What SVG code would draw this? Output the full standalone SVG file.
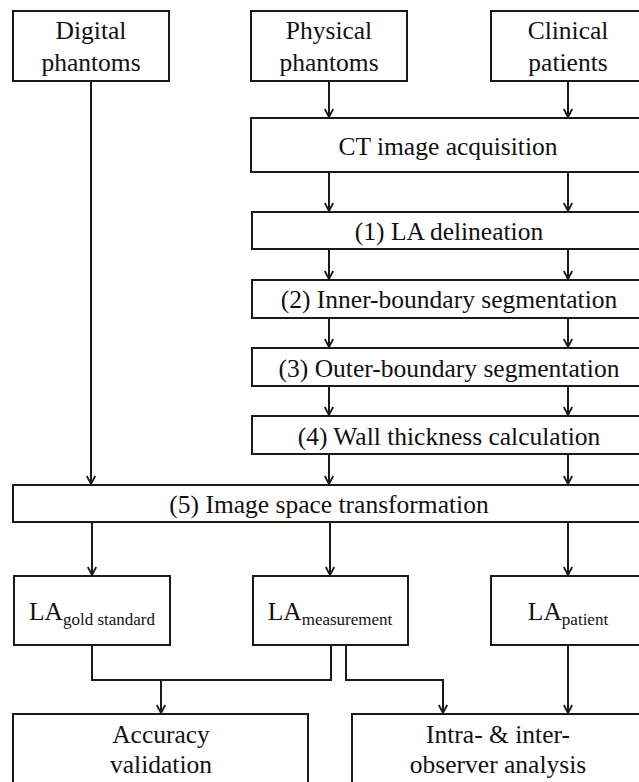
<svg xmlns="http://www.w3.org/2000/svg" width="639" height="782" viewBox="0 0 639 782" font-family="'Liberation Serif', 'DejaVu Serif', 'Times New Roman', Times, serif">
  <style>
    .box { fill: #ffffff; stroke: #1a1a1a; stroke-width: 2; }
    .lbl { font-size: 25.5px; fill: #111111; text-anchor: middle; }
    .sub { font-size: 17px; }
    .edge { fill: none; stroke: #1a1a1a; stroke-width: 2; }
    .arrow { marker-end: url(#head); }
  </style>
  <defs>
    <marker id="head" viewBox="0 0 10 10" refX="9.5" refY="5" markerWidth="10" markerHeight="10" markerUnits="userSpaceOnUse" orient="auto">
      <path d="M1.5,0.8 L9.5,5 L1.5,9.2" fill="none" stroke="#1a1a1a" stroke-width="1.8"/>
    </marker>
  </defs>
  <rect width="639" height="782" fill="#ffffff"/>

  <!-- connectors -->
  <g id="connectors">
    <path class="edge arrow" d="M329,81 V117"/>
    <path class="edge arrow" d="M568,81 V117"/>
    <path class="edge arrow" d="M329,172 V211"/>
    <path class="edge arrow" d="M568,172 V211"/>
    <path class="edge arrow" d="M329,249 V279"/>
    <path class="edge arrow" d="M568,249 V279"/>
    <path class="edge arrow" d="M329,318 V347"/>
    <path class="edge arrow" d="M568,318 V347"/>
    <path class="edge arrow" d="M329,386 V415"/>
    <path class="edge arrow" d="M568,386 V415"/>
    <path class="edge arrow" d="M91,81 V484"/>
    <path class="edge arrow" d="M329,454 V484"/>
    <path class="edge arrow" d="M568,454 V484"/>
    <path class="edge arrow" d="M92,522 V575"/>
    <path class="edge arrow" d="M330,522 V575"/>
    <path class="edge arrow" d="M568,522 V575"/>
    <path class="edge" d="M92,645 V680 H331 V645"/>
    <path class="edge arrow" d="M161,680 V713"/>
    <path class="edge arrow" d="M346,645 V680 H443 V713"/>
    <path class="edge arrow" d="M568,645 V713"/>
  </g>

  <g id="digital">
    <rect class="box" x="13" y="11" width="156" height="70"/>
    <text class="lbl" x="91" y="39">Digital</text>
    <text class="lbl" x="91" y="71">phantoms</text>
  </g>
  <g id="physical">
    <rect class="box" x="251" y="11" width="156" height="70"/>
    <text class="lbl" x="329" y="39">Physical</text>
    <text class="lbl" x="329" y="71">phantoms</text>
  </g>
  <g id="clinical">
    <rect class="box" x="491" y="11" width="155" height="70"/>
    <text class="lbl" x="568" y="39">Clinical</text>
    <text class="lbl" x="568" y="71">patients</text>
  </g>
  <g id="ct">
    <rect class="box" x="251" y="118" width="395" height="54"/>
    <text class="lbl" x="448" y="155">CT image acquisition</text>
  </g>
  <g id="step1">
    <rect class="box" x="252" y="212" width="394" height="37"/>
    <text class="lbl" x="449" y="240">(1) LA delineation</text>
  </g>
  <g id="step2">
    <rect class="box" x="252" y="280" width="394" height="38"/>
    <text class="lbl" x="449" y="308">(2) Inner-boundary segmentation</text>
  </g>
  <g id="step3">
    <rect class="box" x="252" y="348" width="394" height="38"/>
    <text class="lbl" x="449" y="377">(3) Outer-boundary segmentation</text>
  </g>
  <g id="step4">
    <rect class="box" x="252" y="416" width="394" height="38"/>
    <text class="lbl" x="449" y="445">(4) Wall thickness calculation</text>
  </g>
  <g id="step5">
    <rect class="box" x="13" y="485" width="633" height="37"/>
    <text class="lbl" x="329" y="513">(5) Image space transformation</text>
  </g>
  <g id="la-gold">
    <rect class="box" x="14" y="576" width="156" height="69"/>
    <text class="lbl" x="92" y="620">LA<tspan class="sub" dy="5">gold standard</tspan></text>
  </g>
  <g id="la-measurement">
    <rect class="box" x="253" y="576" width="155" height="69"/>
    <text class="lbl" x="330" y="620">LA<tspan class="sub" dy="5">measurement</tspan></text>
  </g>
  <g id="la-patient">
    <rect class="box" x="491" y="576" width="155" height="69"/>
    <text class="lbl" x="568" y="620">LA<tspan class="sub" dy="5">patient</tspan></text>
  </g>
  <g id="accuracy">
    <rect class="box" x="13" y="714" width="295" height="80"/>
    <text class="lbl" x="161" y="743">Accuracy</text>
    <text class="lbl" x="161" y="773">validation</text>
  </g>
  <g id="observer">
    <rect class="box" x="352" y="714" width="294" height="80"/>
    <text class="lbl" x="498" y="743">Intra- &amp; inter-</text>
    <text class="lbl" x="498" y="773">observer analysis</text>
  </g>
</svg>
